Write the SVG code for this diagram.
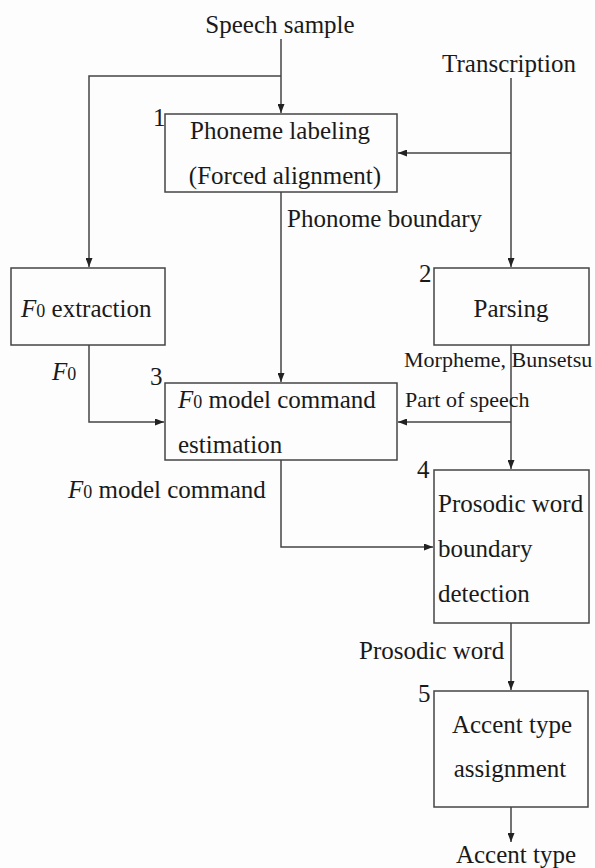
<svg xmlns="http://www.w3.org/2000/svg" width="595" height="868" viewBox="0 0 595 868">
<defs>
<marker id="ah" markerWidth="9" markerHeight="7" refX="9" refY="3.5" orient="auto" markerUnits="userSpaceOnUse">
<path d="M0,0 L9,3.5 L0,7 z" fill="#222"/>
</marker>
<style>
text{font-family:"Liberation Serif","Times New Roman",serif;font-size:25px;fill:#1a1a1a}
.sm{font-size:22px}
.it{font-style:italic}
.sub{font-size:18px}
.box{fill:none;stroke:#444;stroke-width:1.5}
.ln{fill:none;stroke:#444;stroke-width:1.5}
</style>
</defs>
<rect width="595" height="868" fill="#fdfdfd"/>

<g id="connectors">
<path class="ln" d="M281,39 V113" marker-end="url(#ah)"/>
<path class="ln" d="M281,76 H89 V267" marker-end="url(#ah)"/>
<path class="ln" d="M511,78 V267" marker-end="url(#ah)"/>
<path class="ln" d="M511,153 H398" marker-end="url(#ah)"/>
<path class="ln" d="M281,192 V382" marker-end="url(#ah)"/>
<path class="ln" d="M89,345 V422 H164" marker-end="url(#ah)"/>
<path class="ln" d="M511,345 V469" marker-end="url(#ah)"/>
<path class="ln" d="M511,422 H398" marker-end="url(#ah)"/>
<path class="ln" d="M281,460 V547 H433" marker-end="url(#ah)"/>
<path class="ln" d="M511,623 V690" marker-end="url(#ah)"/>
<path class="ln" d="M511,807 V842" marker-end="url(#ah)"/>
</g>

<g id="speech-sample"><text x="280" y="33" text-anchor="middle">Speech sample</text></g>
<g id="transcription"><text x="509" y="72" text-anchor="middle">Transcription</text></g>

<g id="node1">
<rect class="box" x="165" y="114" width="232" height="78"/>
<text x="153" y="126">1</text>
<text x="280" y="139" text-anchor="middle">Phoneme labeling</text>
<text x="285" y="184" text-anchor="middle">(Forced alignment)</text>
</g>

<g id="label-phonome"><text x="287" y="227">Phonome boundary</text></g>

<g id="node-f0">
<rect class="box" x="11" y="268" width="154" height="77"/>
<text x="21" y="317"><tspan class="it">F</tspan><tspan class="sub">0</tspan> extraction</text>
</g>

<g id="node2">
<rect class="box" x="434" y="268" width="155" height="77"/>
<text x="419" y="282">2</text>
<text x="511" y="317" text-anchor="middle">Parsing</text>
</g>

<g id="label-f0"><text x="52" y="380"><tspan class="it">F</tspan><tspan class="sub">0</tspan></text></g>
<g id="label-morph"><text class="sm" x="404" y="367">Morpheme, Bunsetsu</text></g>
<g id="label-pos"><text class="sm" x="405" y="407">Part of speech</text></g>

<g id="node3">
<rect class="box" x="165" y="383" width="232" height="77"/>
<text x="150" y="385">3</text>
<text x="178" y="408"><tspan class="it">F</tspan><tspan class="sub">0</tspan> model command</text>
<text x="178" y="453">estimation</text>
</g>

<g id="label-f0cmd"><text x="68" y="498"><tspan class="it">F</tspan><tspan class="sub">0</tspan> model command</text></g>

<g id="node4">
<rect class="box" x="434" y="470" width="155" height="153"/>
<text x="417" y="478">4</text>
<text x="438" y="512">Prosodic word</text>
<text x="438" y="557">boundary</text>
<text x="438" y="602">detection</text>
</g>

<g id="label-pw"><text x="359" y="659">Prosodic word</text></g>

<g id="node5">
<rect class="box" x="434" y="691" width="154" height="116"/>
<text x="418" y="702">5</text>
<text x="512" y="733" text-anchor="middle">Accent type</text>
<text x="510" y="777" text-anchor="middle">assignment</text>
</g>

<g id="accent-type"><text x="516" y="863" text-anchor="middle">Accent type</text></g>
</svg>
